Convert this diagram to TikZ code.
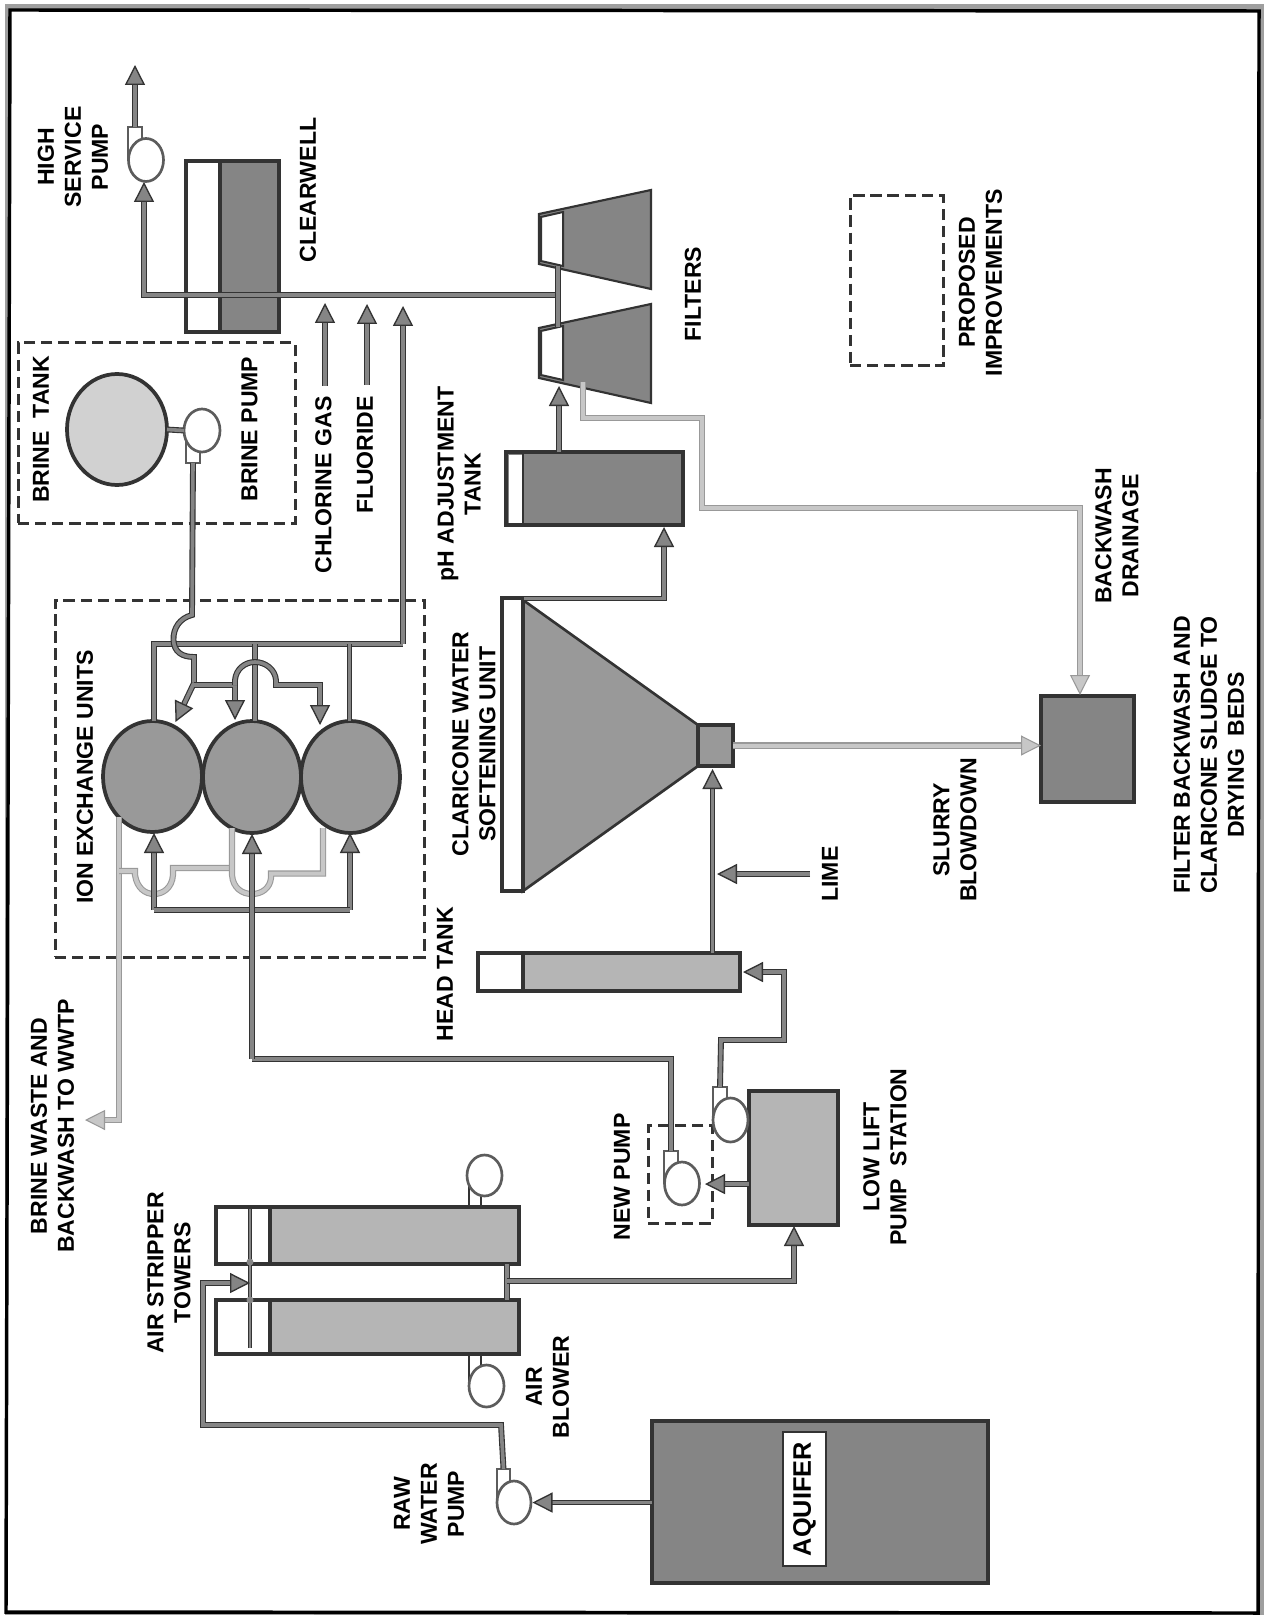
\documentclass[tikz,border=0pt]{standalone}
\usepackage{fontspec}
\setmainfont{Liberation Sans}
\newfontfamily\lblfont{Liberation Sans Bold}
\usetikzlibrary{arrows.meta,shapes.geometric}
\def\pxu{0.75pt}
\definecolor{edgec}{gray}{0.20}
\definecolor{corec}{gray}{0.52}
\definecolor{lightedge}{gray}{0.60}
\definecolor{lightcore}{gray}{0.78}
\definecolor{darkfill}{gray}{0.52}
\definecolor{midfill}{gray}{0.60}
\definecolor{lightfill}{gray}{0.71}
\definecolor{palefill}{gray}{0.82}
\tikzset{
  shapebox/.style={draw=edgec,line width=2.3pt,inner sep=0pt,outer sep=0pt},
  whitebox/.style={shapebox,fill=white},
  dashbox/.style={draw=edgec,line width=2.25pt,dash pattern=on 8.5pt off 4.3pt,inner sep=0pt,outer sep=0pt},
  pipe/.style={draw=edgec,line width=0.85pt,double=corec,double distance=2.7pt,line join=miter},
  thinpipe/.style={draw=edgec,line width=0.7pt,double=corec,double distance=1.6pt},
  lightpipe/.style={draw=lightedge,line width=0.8pt,double=lightcore,double distance=3pt,line join=miter},
  tipd/.style={-{Triangle[length=15pt,width=15pt,line width=1pt,fill=corec,color=edgec]}},
  tipl/.style={-{Triangle[length=15pt,width=15pt,line width=0.8pt,fill=lightcore,color=lightedge]}},
  pumpbody/.style={ellipse,draw=edgec!80,line width=2pt,fill=white,inner sep=0pt,outer sep=0pt},
  pumpneck/.style={draw=edgec!80,line width=1.8pt,fill=white,inner sep=0pt,outer sep=0pt},
  vessel/.style={ellipse,draw=edgec,line width=2.8pt,inner sep=0pt,outer sep=0pt},
  inlet/.style={draw=edgec,line width=1.5pt,fill=white},
  lbl/.style={rotate=90,align=center,inner sep=0pt,text=black,font=\lblfont\fontsize{17.3}{20.25}\selectfont},
}
\newcommand\tankbox[6]{\node[shapebox,#6,minimum width={(#4-#2)*\pxu},minimum height={(#5-#3)*\pxu}] (#1) at ({(#2+#4)/2},{(#3+#5)/2}) {};}
\newcommand\pumpunit[9]{%
  \node[pumpneck,minimum width={(#6-#4)*\pxu},minimum height={(#7-#5)*\pxu}] (#1n) at ({(#4+#6)/2},{(#5+#7)/2}) {};
  \node[pumpbody,minimum width={#8*\pxu},minimum height={#9*\pxu}] (#1) at (#2,#3) {};}
\begin{document}
\begin{tikzpicture}[x=0.75pt,y=-0.75pt]
\useasboundingbox (0,0) rectangle (1266,1615);
% frame
\fill[gray!75] (5,4) rectangle (1264,1615);
\fill[white] (10,10) -- (1259,11) -- (1258,1613) -- (6,1612) -- cycle;
\draw[black,line width=2.6pt] (10,10) -- (1259,11) -- (1258,1613) -- (6,1612) -- cycle;
% dashed boxes
\node[dashbox,minimum width={277*\pxu},minimum height={180*\pxu}] (brinebox) at (156.5,433) {};
\node[dashbox,minimum width={369*\pxu},minimum height={357*\pxu}] (ionbox) at (239.5,778.5) {};
\node[dashbox,minimum width={64*\pxu},minimum height={98*\pxu}] (newbox) at (680,1174.5) {};
\node[dashbox,minimum width={93*\pxu},minimum height={170*\pxu}] (propbox) at (896.5,281) {};
% clearwell
\tankbox{clearwell}{186}{161}{279}{332}{fill=darkfill}
\tankbox{clearwelltop}{186}{161}{220}{332}{whitebox}
% filters
\coordinate (f1a) at (539,214); \coordinate (f1b) at (651,190); \coordinate (f1c) at (651,289); \coordinate (f1d) at (539,264);
\fill[darkfill,draw=edgec,line width=1.6pt] (f1a) -- (f1b) -- (f1c) -- (f1d) -- cycle;
\draw[inlet] (541,217) -- (563,212) -- (563,266) -- (541,261) -- cycle;
\coordinate (f2a) at (539,328); \coordinate (f2b) at (651,304); \coordinate (f2c) at (651,403); \coordinate (f2d) at (539,378);
\fill[darkfill,draw=edgec,line width=1.6pt] (f2a) -- (f2b) -- (f2c) -- (f2d) -- cycle;
\draw[inlet] (541,331) -- (563,326) -- (563,380) -- (541,375) -- cycle;
% pH tank
\tankbox{ph}{506}{452}{683}{525}{fill=darkfill}
\node[fill=white,inner sep=0pt,minimum width={14*\pxu},minimum height={68*\pxu}] (phtop) at (515.5,488.5) {};
\draw[edgec,line width=1.4pt] (phtop.north east) -- (phtop.south east);
% cone
\coordinate (conea) at (523,600); \coordinate (coneb) at (523,891); \coordinate (conec) at (698,766); \coordinate (coned) at (698,725);
\fill[midfill,draw=edgec,line width=2pt] (conea) -- (coned) -- (conec) -- (coneb) -- cycle;
\tankbox{conetop}{502}{598}{523}{891}{whitebox}
\tankbox{conefoot}{698}{725}{733}{766}{fill=midfill}
% head tank
\tankbox{head}{478}{953}{740}{991}{fill=lightfill}
\tankbox{headtop}{478}{953}{523}{991}{whitebox}
% drying bed
\tankbox{bed}{1041}{696}{1134}{802}{fill=darkfill}
% low lift
\tankbox{lowlift}{749}{1091}{838}{1225}{fill=lightfill}
% towers
\tankbox{tower1}{216}{1207}{519}{1264}{fill=lightfill}
\tankbox{tower1t}{216}{1207}{270}{1264}{whitebox}
\tankbox{tower2}{216}{1300}{519}{1354}{fill=lightfill}
\tankbox{tower2t}{216}{1300}{270}{1354}{whitebox}
% aquifer
\tankbox{aquifer}{652}{1421}{988}{1583}{fill=darkfill}
\tankbox{aqlabelbox}{783}{1432}{826}{1566}{whitebox,line width=1.4pt}
% brine tank and ion exchangers
\node[vessel,fill=palefill,minimum width={100*\pxu},minimum height={111*\pxu}] (brinetank) at (117,429.5) {};
\node[vessel,fill=midfill,minimum width={99*\pxu},minimum height={111*\pxu}] (ix1) at (152.5,776.5) {};
\node[vessel,fill=midfill,minimum width={98*\pxu},minimum height={112*\pxu}] (ix2) at (252,777) {};
\node[vessel,fill=midfill,minimum width={99*\pxu},minimum height={112*\pxu}] (ix3) at (350.5,777) {};
% pumps
\pumpunit{hspump}{146}{160}{128}{127}{142}{159}{35}{43}
\pumpunit{brinepump}{202}{430.5}{186}{430}{200}{463}{36}{43}
\pumpunit{lowpump}{730.5}{1120}{713}{1087}{727}{1118}{35}{44}
\pumpunit{newpump}{682}{1183.5}{664}{1151}{678}{1182}{35}{43}
\pumpunit{rawpump}{514}{1502.5}{497}{1469}{510}{1500}{34}{43}
% air blowers
\coordinate (bl1a) at (469,1207); \coordinate (bl1b) at (481,1207);
\draw[edgec,line width=1.4pt] (bl1a) -- (469,1175); \draw[edgec,line width=1.4pt] (bl1b) -- (481,1190);
\coordinate (bl2a) at (469,1354); \coordinate (bl2b) at (481,1354);
\draw[edgec,line width=1.4pt] (bl2a) -- (469,1385); \draw[edgec,line width=1.4pt] (bl2b) -- (481,1370);
\node[pumpbody,minimum width={35*\pxu},minimum height={41*\pxu}] (blower1) at (484.5,1175.5) {};
\node[pumpbody,minimum width={35*\pxu},minimum height={42*\pxu}] (blower2) at (486.5,1386) {};
\draw[pipe] (brinetank.east) -- (brinepump.west);
% dark pipes
\coordinate (hsout) at (135,65);
\draw[pipe,tipd] (hspumpn.north) -- (hsout);
\coordinate (mainE) at (558,295);
\coordinate (hsin) at (144,182);
\draw[pipe,tipd] (mainE) -- (144,295) -- (hsin);
\draw[pipe] (558,266) -- (558,327);
\coordinate (ph2f) at (559,386);
\draw[pipe,tipd] (ph.north -| ph2f) -- (ph2f);
\coordinate (conerim) at (524,598.5); \coordinate (phin) at (664,527);
\draw[pipe,tipd] (conerim) -- (664,598.5) -- (phin);
\coordinate (headtopout) at (712.5,953); \coordinate (conein) at (712.5,769);
\draw[pipe,tipd] (headtopout) -- (conein);
\coordinate (limeS) at (810,874); \coordinate (limeE) at (717,874);
\draw[pipe,tipd] (limeS) -- (limeE);
\coordinate (headin) at (743,972);
\draw[pipe,tipd] (lowpumpn.north) -- (721,1040) -- (784,1040) -- (784,972) -- (headin);
\coordinate (newE) at (252,834);
\coordinate (newB) at (252,1059);
\draw[pipe] (newpumpn.north) -- (671,1059) -- (newB);
\coordinate (newin) at (705,1184);
\draw[pipe,tipd] (lowlift.west |- newin) -- (newin);
\coordinate (twrout) at (507,1264); \coordinate (twrout2) at (507,1300);
\draw[pipe] (twrout) -- (twrout2);
\coordinate (llin) at (794,1226);
\draw[pipe,tipd] (507,1281) -- (794,1281) -- (llin);
\coordinate (spray) at (250,1283);
\draw[thinpipe] (250,1209) -- (250,1348);
\fill[corec] (250,1262) circle (3.5) (250,1300) circle (3.5);
\draw[pipe,tipd] (rawpumpn.north) -- (501,1425) -- (203,1425) -- (203,1283) -- (spray);
\coordinate (rawin) at (532.5,1502.5);
\draw[pipe,tipd] (aquifer.west |- rawin) -- (rawin);
% light pipes
\coordinate (fbk) at (583,382); \coordinate (bedin) at (1080,695);
\draw[lightpipe,tipl] (fbk) -- (583,418) -- (702,418) -- (702,508) -- (1080,508) -- (bedin);
\coordinate (slurryin) at (1041,745.5);
\draw[lightpipe,tipl] (conefoot.east |- slurryin) -- (slurryin);
\coordinate (wst) at (119,817); \coordinate (wstE) at (85,1120);
\draw[lightpipe,tipl] (wst) -- (119,1120) -- (wstE);
\coordinate (ixw2) at (232,828); \coordinate (ixw3) at (323,828);
\draw[lightpipe] (119,871) -- (135,871) -- (135,875) .. controls (137,888) and (145,894) .. (154,894) .. controls (163,894) and (172,888) .. (173,875) -- (173,868) -- (232,868);
\draw[lightpipe] (ixw2) -- (232,875) .. controls (233,888) and (242,894) .. (252,894) .. controls (262,894) and (270,888) .. (271,878) -- (271,873.5) -- (323,873.5) -- (ixw3);
% ion exchange header
\coordinate (ix1in) at (154,833); \coordinate (ix3in) at (350,833);
\draw[pipe,tipd] (154,910) -- (ix1in);
\draw[pipe,tipd] (350,910) -- (ix3in);
\draw[pipe] (154,910) -- (350,910);
\draw[pipe,tipd] (newB) -- (newE);
\draw[pipe] (154,721) -- (154,644) -- (403,644);
\draw[pipe] (255,644) -- (255,721);
\draw[pipe] (349.5,644) -- (349.5,721);
\coordinate (softin) at (403,306);
\draw[pipe,tipd] (403,644) -- (softin);
\coordinate (chlS) at (325,386); \coordinate (chlE) at (325,303);
\draw[pipe,tipd] (chlS) -- (chlE);
\coordinate (fluS) at (367,385); \coordinate (fluE) at (367,304);
\draw[pipe,tipd] (fluS) -- (fluE);
% brine distribution
\draw[pipe] (brinepumpn.south) -- (192,615) .. controls (180,618) and (173,628) .. (173.5,640) .. controls (174,652) and (182,657) .. (194,657) -- (194,685);
\coordinate (b1) at (175.5,722); \coordinate (b2) at (235,720); \coordinate (b3) at (320,725);
\draw[pipe,tipd] (194,683) -- (b1);
\draw[pipe,tipd] (194,685) -- (235,685) -- (b2);
\draw[pipe,tipd] (235,685) -- (235,680) .. controls (236,669) and (245,662) .. (255,662) .. controls (265,662) and (275,669) .. (276,680) -- (276,685) -- (320,685) -- (b3);
% labels
\node[lbl] (t1) at (73,157) {HIGH\\SERVICE\\PUMP};
\node[lbl] (t2) at (308,190) {CLEARWELL};
\node[lbl] (t3) at (41,429.5) {BRINE\ \ TANK};
\node[lbl] (t4) at (249.5,429) {BRINE PUMP};
\node[lbl] (t5) at (323.5,485) {CHLORINE GAS};
\node[lbl] (t6) at (365,455) {FLUORIDE};
\node[lbl] (t7) at (459,484) {pH ADJUSTMENT\\TANK};
\node[lbl] (t8) at (474,744) {CLARICONE WATER\\SOFTENING UNIT};
\node[lbl] (t9) at (85,777) {ION EXCHANGE UNITS};
\node[lbl] (t10) at (445,974) {HEAD TANK};
\node[lbl] (t11) at (52.5,1126) {BRINE WASTE AND\\BACKWASH TO WWTP};
\node[lbl] (t12) at (169,1273) {AIR STRIPPER\\TOWERS};
\node[lbl] (t13) at (547.5,1387) {AIR\\BLOWER};
\node[lbl] (t14) at (429,1504) {RAW\\WATER\\PUMP};
\node[lbl] (t15) at (622,1177) {NEW PUMP};
\node[lbl] (t16) at (885,1157) {LOW LIFT\\PUMP\ \ STATION};
\node[lbl] (t17) at (830,874) {LIME};
\node[lbl] (t18) at (955,830) {SLURRY\\BLOWDOWN};
\node[lbl] (t19) at (1209,755) {FILTER BACKWASH AND\\CLARICONE SLUDGE TO\\DRYING\ \ BEDS};
\node[lbl] (t20) at (1117,536) {BACKWASH\\DRAINAGE};
\node[lbl] (t21) at (693,294) {FILTERS};
\node[lbl] (t22) at (980.5,282.5) {PROPOSED\\IMPROVEMENTS};
\node[lbl,font=\lblfont\fontsize{19}{23}\selectfont] (t23) at (804.5,1499) {AQUIFER};
\end{tikzpicture}
\end{document}
